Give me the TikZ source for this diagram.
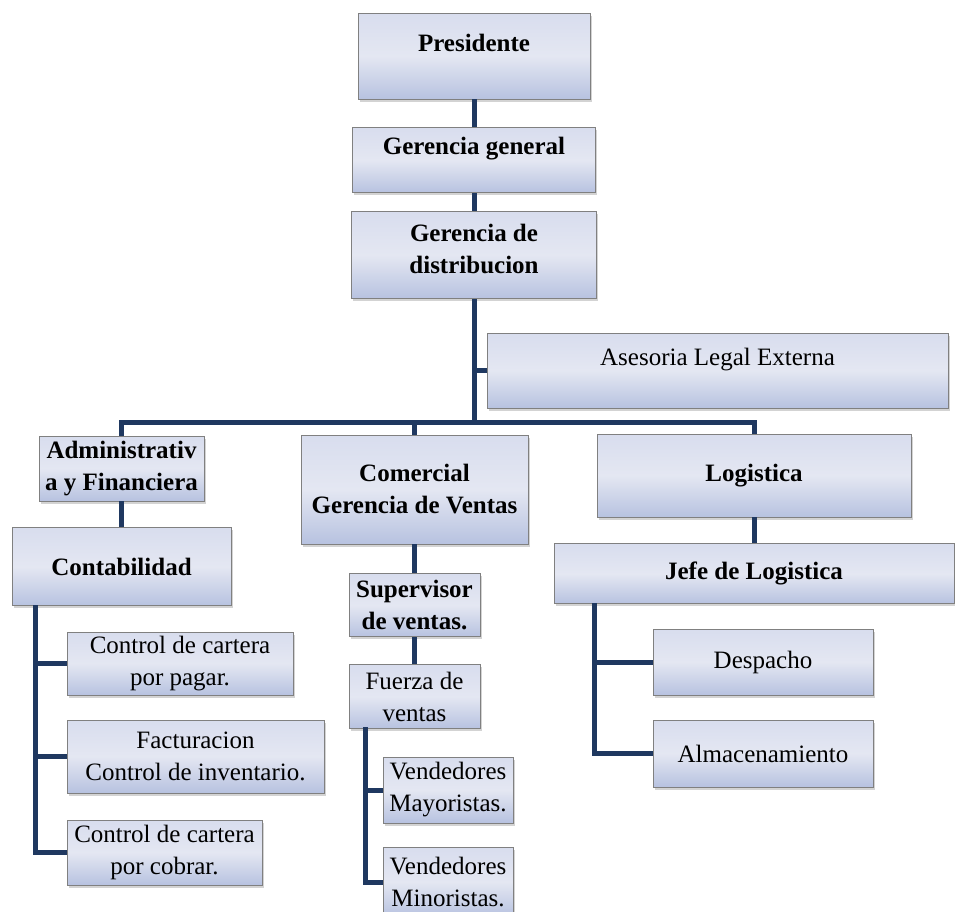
\documentclass[tikz,border=0pt]{standalone}
\usepackage{fontspec}
\setmainfont{Liberation Serif}
\usetikzlibrary{positioning, shadows}
\definecolor{linkblue}{RGB}{31,56,96}
\definecolor{boxtop}{RGB}{216,221,238}
\definecolor{boxmid}{RGB}{228,231,242}
\definecolor{boxbot}{RGB}{183,194,224}

\begin{document}
\begin{tikzpicture}[
  x=1pt, y=-1pt,
  box/.style={
    rectangle, draw=black!50, line width=0.8pt,
    top color=boxtop, bottom color=boxbot, middle color=boxmid,
    drop shadow={shadow xshift=1.5pt, shadow yshift=-2.5pt, opacity=0.35},
    inner sep=2pt, align=center,
    font=\fontsize{25}{32}\selectfont
  },
  head/.style={box, font=\fontsize{25}{32}\selectfont\bfseries},
  link/.style={draw=linkblue, line width=5pt},
  lift/.style={text depth=#1}
]
\clip (0,0) rectangle (955,911);

\node[head, minimum width=232pt, minimum height=86pt, lift=26pt] (pres) at (474,56) {Presidente};
\node[head, minimum width=243pt, minimum height=65pt, lift=28pt, below=28pt of pres] (ger) {Gerencia general};
\node[head, minimum width=245pt, minimum height=87pt, lift=12pt, below=18pt of ger] (dist) {Gerencia de\\distribucion};
\node[box, minimum width=461pt, minimum height=75pt, lift=28pt] (ases) at (717.5,370.5) {Asesoria Legal Externa};

\node[head, minimum width=165pt, minimum height=65pt] (adm) at (121.5,468.5) {Administrativ\\a y Financiera};
\node[head, minimum width=227pt, minimum height=109pt] (com) at (414.5,489.5) {Comercial\\Gerencia de Ventas};
\node[head, minimum width=314pt, minimum height=83pt] (log) at (754,475.5) {Logistica};

\node[head, minimum width=219pt, minimum height=78pt, below=26pt of adm] (cont) {Contabilidad};
\node[box, minimum width=226pt, minimum height=63pt] (cpag) at (180,663.5) {Control de cartera\\por pagar.};
\node[box, minimum width=257pt, minimum height=73pt] (fact) at (195.5,756.5) {Facturacion\\Control de inventario.};
\node[box, minimum width=195pt, minimum height=65pt] (ccob) at (164.5,852.5) {Control de cartera\\por cobrar.};

\node[head, minimum width=131pt, minimum height=63pt, below=29pt of com] (sup) {Supervisor\\de ventas.};
\node[box, minimum width=131pt, minimum height=64pt, below=27pt of sup] (fue) {Fuerza de\\ventas};
\node[box, minimum width=130pt, minimum height=66pt] (vmay) at (448,790) {Vendedores\\Mayoristas.};
\node[box, minimum width=130pt, minimum height=70pt] (vmin) at (448,882) {Vendedores\\Minoristas.};

\node[head, minimum width=400pt, minimum height=60pt, below=26pt of log] (jefe) {Jefe de Logistica};
\node[box, minimum width=220pt, minimum height=66pt] (desp) at (763,662) {Despacho};
\node[box, minimum width=220pt, minimum height=67pt] (alm) at (763,753.5) {Almacenamiento};

\coordinate (bus) at (0,422);
\coordinate (crail) at (35,605);
\coordinate (frail) at (365,727);
\coordinate (jrail) at (594,603);

\draw[link] (pres) -- (ger);
\draw[link] (ger) -- (dist);
\draw[link] (dist) -- (dist.south |- bus);
\draw[link] (ases.west) -- (ases.west -| dist.south);
\draw[link] (adm.north) |- (bus -| log.north) -- (log.north);
\draw[link] (com.north) -- (com.north |- bus);

\draw[link] (adm) -- (cont);
\draw[link] (cpag.west) -| (crail);
\draw[link] (fact.west) -| (crail);
\draw[link] (ccob.west) -| (crail);

\draw[link] (com) -- (sup);
\draw[link] (sup) -- (fue);
\draw[link] (vmay.west) -| (frail);
\draw[link] (vmin.west) -| (frail);

\draw[link] (log) -- (jefe);
\draw[link] (desp.west) -| (jrail);
\draw[link] (alm.west) -| (jrail);

\end{tikzpicture}
\end{document}
